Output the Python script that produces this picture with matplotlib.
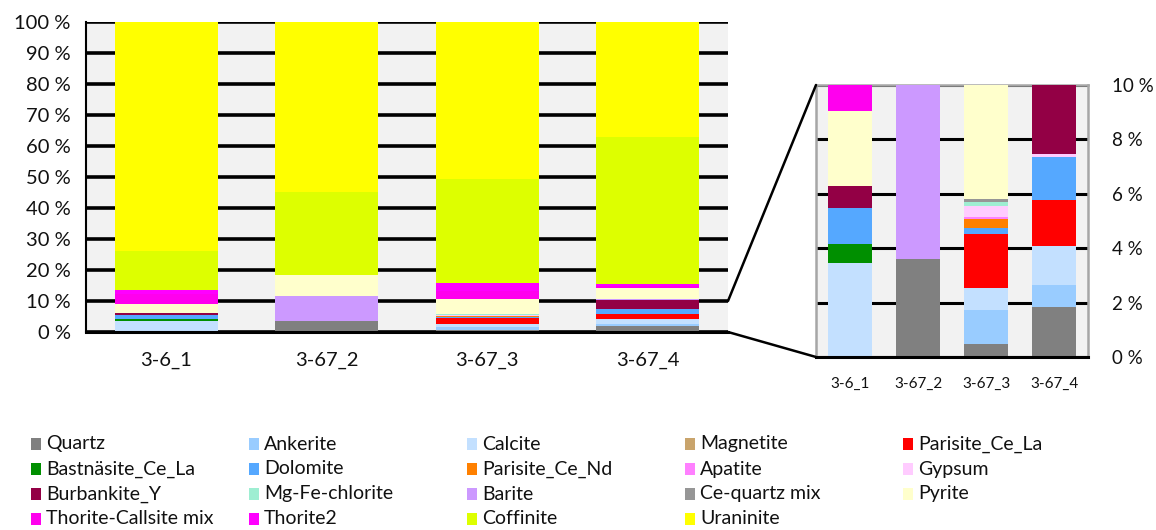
import matplotlib
matplotlib.use("Agg")
import matplotlib.pyplot as plt
from matplotlib.patches import Rectangle, ConnectionPatch
from matplotlib.ticker import FuncFormatter, MultipleLocator
import numpy as np

plt.rcParams['font.family'] = ['Lato', 'DejaVu Sans']

samples = ["3-6_1", "3-67_2", "3-67_3", "3-67_4"]

minerals = ["Quartz", "Ankerite", "Calcite", "Magnetite", "Parisite_Ce_La",
            "Bastnäsite_Ce_La", "Dolomite", "Parisite_Ce_Nd", "Apatite", "Gypsum",
            "Burbankite_Y", "Mg-Fe-chlorite", "Barite", "Ce-quartz mix", "Pyrite",
            "Thorite-Callsite mix", "Thorite2", "Coffinite", "Uraninite"]

colors = ["#808080", "#99CCFF", "#C3E0FF", "#C9A46C", "#FF0000",
          "#008F00", "#55A8FF", "#FF8000", "#FF80FF", "#FFCCFF",
          "#930045", "#9EEED2", "#CC99FF", "#969696", "#FFFFCC",
          "#FF00EE", "#FF00FF", "#DDFF00", "#FFFF00"]

# modal mineralogy, % of area, per sample (3-6_1, 3-67_2, 3-67_3, 3-67_4)
quartz          = [0.00, 3.62, 0.49, 1.83]
ankerite        = [0.00, 0.00, 1.25, 0.81]
calcite         = [3.46, 0.00, 0.78, 1.43]
magnetite       = [0.00, 0.00, 0.00, 0.00]
parisite_ce_la  = [0.00, 0.00, 2.00, 1.70]
bastnasite      = [0.69, 0.00, 0.00, 0.00]
dolomite        = [1.34, 0.00, 0.22, 1.57]
parisite_ce_nd  = [0.00, 0.00, 0.32, 0.00]
apatite         = [0.00, 0.00, 0.08, 0.00]
gypsum          = [0.00, 0.00, 0.42, 0.14]
burbankite      = [0.80, 0.00, 0.00, 2.90]
mg_fe_chlorite  = [0.00, 0.00, 0.14, 0.00]
barite          = [0.00, 7.90, 0.00, 0.15]
ce_quartz_mix   = [0.00, 0.00, 0.12, 0.00]
pyrite          = [2.77, 6.90, 4.83, 3.70]
thorite_callsite = [3.30, 0.00, 2.50, 0.70]
thorite2        = [1.04, 0.00, 2.55, 0.70]
coffinite       = [12.60, 26.60, 33.80, 47.20]
uraninite       = [74.00, 54.98, 50.50, 37.17]

values = [quartz, ankerite, calcite, magnetite, parisite_ce_la, bastnasite,
          dolomite, parisite_ce_nd, apatite, gypsum, burbankite, mg_fe_chlorite,
          barite, ce_quartz_mix, pyrite, thorite_callsite, thorite2, coffinite,
          uraninite]

W, H = 1156, 530
fig = plt.figure(figsize=(W / 100, H / 100), dpi=100)

def fig_rect(x0, y0, x1, y1):
    return [x0 / W, 1 - y1 / H, (x1 - x0) / W, (y1 - y0) / H]

bg = "#F2F2F2"
ax = fig.add_axes(fig_rect(86, 22, 728, 332))
axz = fig.add_axes(fig_rect(816, 85, 1088, 357))

x = np.arange(len(samples))

def draw_stack(a, width):
    bottom = np.zeros(len(samples))
    for vals, c in zip(values, colors):
        v = np.array(vals)
        a.bar(x, v, width, bottom=bottom, color=c, edgecolor='none', zorder=3)
        bottom += v

draw_stack(ax, 0.64)
draw_stack(axz, 0.65)

pct = FuncFormatter(lambda v, p: f"{v:.0f} %")

# main chart
ax.set_facecolor(bg)
ax.set_xlim(-0.5, 3.5)
ax.set_ylim(0, 100)
ax.yaxis.set_major_locator(MultipleLocator(10))
ax.yaxis.set_major_formatter(pct)
ax.set_xticks(x)
ax.set_xticklabels(samples)
ax.tick_params(axis='both', length=0, labelsize=14.5, colors='#111111')
ax.tick_params(axis='x', pad=14)
ax.tick_params(axis='y', pad=11)
ax.grid(axis='y', color='black', linewidth=2.6, zorder=1)
ax.set_axisbelow(True)
for s in ['top', 'right']:
    ax.spines[s].set_visible(False)
ax.spines['left'].set_color('black')
ax.spines['left'].set_linewidth(1.5)
ax.spines['bottom'].set_color('black')
ax.spines['bottom'].set_linewidth(2.2)
ax.spines['bottom'].set_zorder(4)

# zoomed chart of the lowest 10 %
axz.set_facecolor(bg)
axz.set_xlim(-0.5, 3.5)
axz.set_ylim(0, 10)
axz.yaxis.set_major_locator(MultipleLocator(2))
axz.yaxis.set_major_formatter(pct)
axz.yaxis.tick_right()
axz.set_xticks(x)
axz.set_xticklabels(samples)
axz.tick_params(axis='x', length=0, labelsize=11, pad=14, colors='#111111')
axz.tick_params(axis='y', length=0, labelsize=13.5, pad=17, colors='#111111')
axz.grid(axis='y', color='black', linewidth=2.2, zorder=1)
axz.set_axisbelow(True)
for s in ['top', 'right', 'left']:
    axz.spines[s].set_color('#A6A6A6')
    axz.spines[s].set_linewidth(1.8)
axz.spines['bottom'].set_color('black')
axz.spines['bottom'].set_linewidth(2.2)
axz.spines['bottom'].set_zorder(4)

# connector lines between the two charts
for ya, yb in [(0.1, 1.0), (0.0, 0.0)]:
    con = ConnectionPatch(xyA=(1.0, ya), coordsA=ax.transAxes,
                          xyB=(0.0, yb), coordsB=axz.transAxes,
                          color='black', linewidth=1.8)
    fig.add_artist(con)

# legend, filled row by row
col_x = [31, 249, 467, 685, 903]
row_y = [444, 469, 494, 519]
for i, (name, c) in enumerate(zip(minerals, colors)):
    r, k = divmod(i, 5)
    x0, y0 = col_x[k], row_y[r]
    fig.add_artist(Rectangle((x0 / W, 1 - (y0 + 6) / H), 10 / W, 12 / H,
                             transform=fig.transFigure, facecolor=c,
                             edgecolor='none'))
    fig.text((x0 + 15) / W, 1 - y0 / H, name, fontsize=14, va='center',
             ha='left', color='#111111')

fig.savefig("out.png", dpi=100)
